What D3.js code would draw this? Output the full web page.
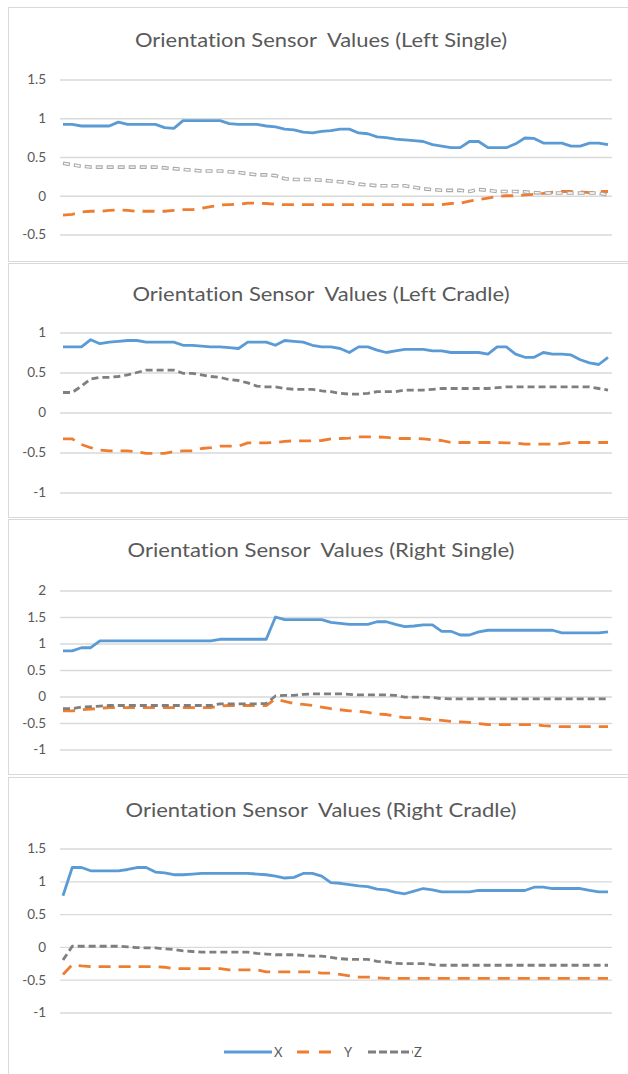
<!DOCTYPE html>
<html>
<head>
<meta charset="utf-8">
<script src="https://cdn.jsdelivr.net/npm/d3@7"></script>
<style>
  html, body { margin: 0; padding: 0; background: #ffffff; }
  svg { display: block; }
  text { font-family: Lato, "Open Sans", "Noto Sans", sans-serif; fill: #595959;
         font-variant-ligatures: none; font-feature-settings: "liga" 0, "clig" 0, "dlig" 0; }
</style>
</head>
<body>
<svg id="chart" width="628" height="1074"></svg>
<script>
// ---------- data ----------
const seriesNames = ["X", "Y", "Z"];
const titles = [
  "Orientation Sensor  Values (Left Single)",
  "Orientation Sensor  Values (Left Cradle)",
  "Orientation Sensor  Values (Right Single)",
  "Orientation Sensor  Values (Right Cradle)"
];
const ticksLeftSingle  = [-0.5, 0, 0.5, 1, 1.5];
const ticksLeftCradle  = [-1, -0.5, 0, 0.5, 1];
const ticksRightSingle = [-1, -0.5, 0, 0.5, 1, 1.5, 2];
const ticksRightCradle = [-1, -0.5, 0, 0.5, 1, 1.5];

const leftSingleX = [0.92,0.92,0.90,0.90,0.90,0.90,0.95,0.92,0.92,0.92,
  0.92,0.88,0.87,0.97,0.97,0.97,0.97,0.97,0.93,0.92,
  0.92,0.92,0.90,0.89,0.86,0.85,0.82,0.81,0.83,0.84,
  0.86,0.86,0.81,0.80,0.76,0.75,0.73,0.72,0.71,0.70,
  0.66,0.64,0.62,0.62,0.70,0.70,0.62,0.62,0.62,0.67,
  0.745,0.74,0.68,0.68,0.68,0.64,0.64,0.68,0.68,0.66];
const leftSingleY = [-0.25,-0.24,-0.21,-0.20,-0.20,-0.19,-0.18,-0.19,-0.20,-0.20,
  -0.20,-0.20,-0.19,-0.18,-0.18,-0.16,-0.14,-0.12,-0.115,-0.11,
  -0.095,-0.095,-0.10,-0.11,-0.115,-0.115,-0.115,-0.115,-0.115,-0.115,
  -0.115,-0.115,-0.115,-0.115,-0.115,-0.115,-0.115,-0.115,-0.115,-0.115,
  -0.115,-0.115,-0.10,-0.095,-0.07,-0.05,-0.03,-0.01,0,0,
  0.01,0.02,0.03,0.045,0.055,0.055,0.05,0.04,0.055,0.055];
const leftSingleZ = [0.42,0.40,0.38,0.37,0.37,0.37,0.37,0.37,0.37,0.37,
  0.37,0.36,0.35,0.34,0.33,0.32,0.32,0.32,0.31,0.30,
  0.285,0.27,0.27,0.26,0.22,0.21,0.21,0.21,0.20,0.19,
  0.18,0.17,0.15,0.14,0.13,0.13,0.13,0.13,0.11,0.09,
  0.08,0.07,0.07,0.07,0.055,0.08,0.07,0.055,0.055,0.055,
  0.05,0.04,0.035,0.035,0.035,0.035,0.035,0.035,0.035,0.01];

const leftCradleX = [0.82,0.82,0.82,0.91,0.86,0.88,0.89,0.90,0.90,0.88,
  0.88,0.88,0.88,0.84,0.84,0.83,0.82,0.82,0.81,0.80,
  0.88,0.88,0.88,0.84,0.90,0.89,0.88,0.84,0.82,0.82,
  0.80,0.75,0.82,0.82,0.78,0.75,0.77,0.79,0.79,0.79,
  0.77,0.77,0.75,0.75,0.75,0.75,0.73,0.82,0.82,0.73,
  0.69,0.69,0.75,0.73,0.73,0.72,0.66,0.62,0.60,0.69];
const leftCradleY = [-0.33,-0.33,-0.40,-0.44,-0.47,-0.48,-0.48,-0.48,-0.49,-0.51,
  -0.51,-0.51,-0.49,-0.48,-0.48,-0.45,-0.44,-0.42,-0.42,-0.42,
  -0.38,-0.38,-0.38,-0.375,-0.36,-0.355,-0.355,-0.355,-0.35,-0.33,
  -0.325,-0.32,-0.305,-0.305,-0.305,-0.31,-0.325,-0.325,-0.325,-0.33,
  -0.34,-0.35,-0.375,-0.375,-0.375,-0.375,-0.375,-0.375,-0.38,-0.38,
  -0.395,-0.395,-0.395,-0.395,-0.39,-0.375,-0.375,-0.375,-0.375,-0.375];
const leftCradleZ = [0.25,0.25,0.33,0.42,0.44,0.44,0.45,0.47,0.50,0.53,
  0.53,0.53,0.53,0.49,0.49,0.47,0.45,0.44,0.41,0.40,
  0.37,0.33,0.32,0.32,0.30,0.29,0.29,0.29,0.27,0.26,
  0.24,0.23,0.23,0.24,0.26,0.26,0.26,0.28,0.28,0.28,
  0.29,0.30,0.30,0.30,0.30,0.30,0.30,0.31,0.32,0.32,
  0.32,0.32,0.32,0.32,0.32,0.32,0.32,0.32,0.30,0.28];

const rightSingleX = [0.86,0.86,0.92,0.92,1.05,1.05,1.05,1.05,1.05,1.05,
  1.05,1.05,1.05,1.05,1.05,1.05,1.05,1.08,1.08,1.08,
  1.08,1.08,1.08,1.50,1.45,1.45,1.45,1.45,1.45,1.40,
  1.38,1.36,1.36,1.36,1.41,1.41,1.36,1.32,1.33,1.35,
  1.35,1.23,1.23,1.16,1.16,1.22,1.25,1.25,1.25,1.25,
  1.25,1.25,1.25,1.25,1.20,1.20,1.20,1.20,1.20,1.22];
const rightSingleY = [-0.27,-0.27,-0.25,-0.24,-0.22,-0.21,-0.21,-0.21,-0.21,-0.21,
  -0.21,-0.21,-0.21,-0.21,-0.21,-0.21,-0.21,-0.18,-0.17,-0.17,
  -0.17,-0.17,-0.17,-0.05,-0.09,-0.13,-0.15,-0.17,-0.20,-0.23,
  -0.25,-0.27,-0.28,-0.30,-0.33,-0.34,-0.37,-0.40,-0.40,-0.42,
  -0.44,-0.45,-0.47,-0.48,-0.49,-0.51,-0.53,-0.53,-0.53,-0.53,
  -0.53,-0.53,-0.55,-0.56,-0.57,-0.57,-0.57,-0.57,-0.57,-0.57];
const rightSingleZ = [-0.23,-0.23,-0.20,-0.19,-0.18,-0.17,-0.17,-0.17,-0.17,-0.17,
  -0.17,-0.17,-0.17,-0.17,-0.17,-0.17,-0.17,-0.14,-0.14,-0.14,
  -0.14,-0.14,-0.13,0.01,0.02,0.02,0.04,0.05,0.05,0.05,
  0.05,0.04,0.03,0.03,0.03,0.03,0.02,-0.01,-0.01,-0.01,
  -0.02,-0.04,-0.045,-0.045,-0.045,-0.045,-0.045,-0.045,-0.045,-0.045,
  -0.045,-0.045,-0.045,-0.045,-0.045,-0.045,-0.045,-0.045,-0.045,-0.045];

const rightCradleX = [0.78,1.21,1.21,1.16,1.16,1.16,1.16,1.18,1.21,1.21,
  1.14,1.13,1.10,1.10,1.11,1.12,1.12,1.12,1.12,1.12,
  1.12,1.11,1.10,1.08,1.05,1.06,1.12,1.12,1.08,0.98,
  0.97,0.95,0.93,0.92,0.88,0.87,0.83,0.81,0.85,0.89,
  0.87,0.84,0.84,0.84,0.84,0.86,0.86,0.86,0.86,0.86,
  0.86,0.91,0.91,0.89,0.89,0.89,0.89,0.86,0.84,0.84];
const rightCradleY = [-0.42,-0.27,-0.29,-0.30,-0.30,-0.30,-0.30,-0.30,-0.30,-0.30,
  -0.30,-0.31,-0.33,-0.33,-0.33,-0.33,-0.33,-0.33,-0.35,-0.35,
  -0.35,-0.35,-0.38,-0.38,-0.38,-0.38,-0.38,-0.38,-0.40,-0.40,
  -0.42,-0.44,-0.46,-0.46,-0.47,-0.48,-0.48,-0.48,-0.48,-0.48,
  -0.48,-0.48,-0.48,-0.48,-0.48,-0.48,-0.48,-0.48,-0.48,-0.48,
  -0.48,-0.48,-0.48,-0.48,-0.48,-0.48,-0.48,-0.48,-0.48,-0.48];
const rightCradleZ = [-0.20,0.01,0.01,0.01,0.01,0.01,0.01,0.0,-0.01,-0.015,
  -0.015,-0.03,-0.04,-0.06,-0.07,-0.08,-0.08,-0.08,-0.08,-0.08,
  -0.08,-0.10,-0.11,-0.12,-0.12,-0.12,-0.13,-0.14,-0.14,-0.16,
  -0.18,-0.19,-0.19,-0.19,-0.22,-0.23,-0.25,-0.255,-0.255,-0.255,
  -0.27,-0.28,-0.28,-0.28,-0.28,-0.28,-0.28,-0.28,-0.28,-0.28,
  -0.28,-0.28,-0.28,-0.28,-0.28,-0.28,-0.28,-0.28,-0.28,-0.28];

// ---------- layout ----------
const panels = [
  { title: titles[0], ticks: ticksLeftSingle,  data: [leftSingleX, leftSingleY, leftSingleZ],
    box: [7, 261], titleY: 47, titleW: 372, yPix: [234.5, 79.5], hollowZ: true },
  { title: titles[1], ticks: ticksLeftCradle,  data: [leftCradleX, leftCradleY, leftCradleZ],
    box: [263, 517], titleY: 301, titleW: 377, yPix: [492.5, 332.5], hollowZ: false },
  { title: titles[2], ticks: ticksRightSingle, data: [rightSingleX, rightSingleY, rightSingleZ],
    box: [519, 774], titleY: 557, titleW: 387, yPix: [749.5, 590.5], hollowZ: false },
  { title: titles[3], ticks: ticksRightCradle, data: [rightCradleX, rightCradleY, rightCradleZ],
    box: [777, 1080], titleY: 817, titleW: 391, yPix: [1012.5, 848.5], hollowZ: false }
];

const colors = { X: "#5B9BD5", Y: "#ED7D31", Z: "#7F7F7F" };
const dashes = { X: null, Y: "12,8", Z: "7,4" };

const svg = d3.select("#chart");
const x = d3.scaleLinear().domain([0, leftSingleX.length - 1]).range([63, 608]);
const fmt = v => String(v);

panels.forEach(p => {
  const g = svg.append("g");
  g.append("rect")
    .attr("x", 8.5).attr("y", p.box[0] + 0.5)
    .attr("width", 640).attr("height", p.box[1] - p.box[0])
    .attr("fill", "none").attr("stroke", "#d9d9d9").attr("stroke-width", 1);

  g.append("text")
    .attr("x", 321).attr("y", p.titleY)
    .attr("text-anchor", "middle")
    .attr("textLength", p.titleW)
    .attr("lengthAdjust", "spacingAndGlyphs")
    .style("font-size", "20px")
    .style("white-space", "pre")
    .text(p.title);

  const y = d3.scaleLinear().domain(d3.extent(p.ticks)).range(p.yPix);

  const axis = d3.axisLeft(y).tickValues(p.ticks).tickFormat(fmt).tickSize(-552).tickPadding(14);
  const ax = g.append("g").attr("transform", "translate(60,0)").call(axis);
  ax.select(".domain").remove();
  ax.selectAll(".tick line").attr("stroke", "#d9d9d9").attr("stroke-width", 1.3);
  ax.selectAll(".tick text")
    .attr("fill", "#595959")
    .style("font-size", "13.5px")
    .style("font-family", "Lato, 'Open Sans', sans-serif");

  const line = d3.line().x((d, i) => x(i)).y(d => y(d));

  seriesNames.forEach((name, si) => {
    const vals = p.data[si];
    if (name === "Z" && p.hollowZ) {
      g.append("path").datum(vals).attr("d", line)
        .attr("fill", "none").attr("stroke", "#a9a9a9").attr("stroke-width", 3.6)
        .attr("stroke-dasharray", "7,4").attr("stroke-linecap", "butt").attr("stroke-linejoin", "round");
      g.append("path").datum(vals).attr("d", line)
        .attr("fill", "none").attr("stroke", "#ffffff").attr("stroke-width", 1.4)
        .attr("stroke-dasharray", "5,6").attr("stroke-dashoffset", -1)
        .attr("stroke-linecap", "butt").attr("stroke-linejoin", "round");
    } else {
      const path = g.append("path").datum(vals).attr("d", line)
        .attr("fill", "none").attr("stroke", colors[name])
        .attr("stroke-width", 2.8)
        .attr("stroke-linejoin", "round");
      if (dashes[name]) path.attr("stroke-dasharray", dashes[name]).attr("stroke-linecap", "butt");
    }
  });
});

// ---------- legend ----------
const legendItems = [
  { name: "X", x0: 224, x1: 272, tx: 274 },
  { name: "Y", x0: 297, x1: 336, tx: 344 },
  { name: "Z", x0: 368, x1: 413, tx: 414 }
];
const lg = svg.append("g");
legendItems.forEach(it => {
  lg.append("line")
    .attr("x1", it.x0).attr("x2", it.x1).attr("y1", 1052).attr("y2", 1052)
    .attr("stroke", colors[it.name]).attr("stroke-width", 2.8)
    .attr("stroke-dasharray", it.name === "Y" ? "12,10" : (it.name === "Z" ? "8,3" : null));
  lg.append("text")
    .attr("x", it.tx).attr("y", 1056.5)
    .style("font-size", "13px")
    .text(it.name);
});
</script>
</body>
</html>
